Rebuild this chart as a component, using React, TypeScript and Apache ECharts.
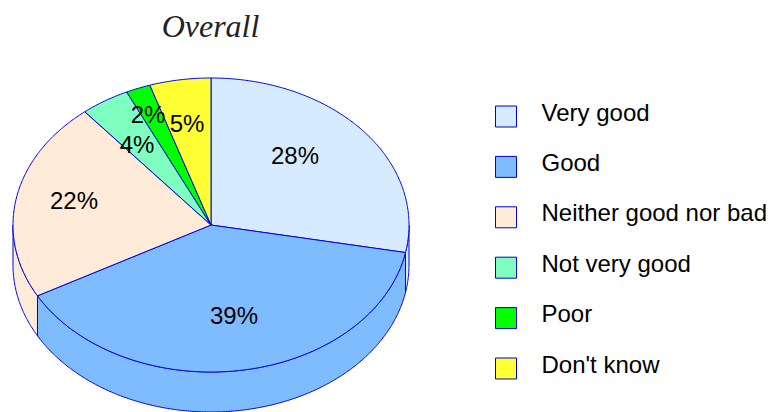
import React, { useEffect, useRef } from "react";
import * as echarts from "echarts";

const titleText = "Overall";
const categories = ["Very good", "Good", "Neither good nor bad", "Not very good", "Poor", "Don't know"];
const shares = [28, 39, 22, 4, 2, 5];
const sliceColors = ["#D6EBFF", "#7FBBFF", "#FFEBD7", "#7FFFBF", "#00FF00", "#FFFF33"];
const labelCentres = [[295, 155], [234, 315], [74, 200], [137, 144], [148, 114], [187, 123]];

const EDGE = "#0000D8";
const CX = 211, CY = 225, RX = 198, RY = 147, DEPTH = 40;
const DEG = Math.PI / 180;
const rim = (a: number, dy = 0) => [CX + RX * Math.sin(a * DEG), CY + dy - RY * Math.cos(a * DEG)];
const arc = (a: number, b: number, dy = 0) => {
  const pts: number[][] = [];
  const n = Math.max(2, Math.ceil((b - a) * 2));
  for (let i = 0; i <= n; i++) pts.push(rim(a + ((b - a) * i) / n, dy));
  return pts;
};
const total = shares.reduce((s, v) => s + v, 0);

const makeSeries = (name: string, i: number) => ({
  type: "custom",
  name,
  coordinateSystem: "none",
  silent: true,
  data: [[shares[i], shares.slice(0, i).reduce((s, v) => s + v, 0)]],
  itemStyle: { color: sliceColors[i] },
  renderItem: (_p: any, api: any) => {
    const start = (api.value(1) / total) * 360;
    const end = start + (api.value(0) / total) * 360;
    const style = { fill: sliceColors[i], stroke: EDGE, lineWidth: 1 };
    const children: any[] = [];
    const wallA = Math.max(start, 90), wallB = Math.min(end, 270);
    if (wallB > wallA) {
      children.push({
        type: "polygon",
        z2: 1,
        shape: { points: [...arc(wallA, wallB), ...arc(wallA, wallB, DEPTH).reverse()] },
        style,
      });
    }
    children.push({
      type: "polygon",
      z2: 2,
      shape: { points: [[CX, CY], ...arc(start, end)] },
      style,
    });
    children.push({
      type: "text",
      z2: 10,
      x: labelCentres[i][0],
      y: labelCentres[i][1],
      style: {
        text: `${Math.round(api.value(0))}%`,
        fill: "#000",
        font: '24px "Liberation Sans", Arial, sans-serif',
        align: "center",
        verticalAlign: "middle",
      },
    });
    return { type: "group", children };
  },
});

export default function App() {
  const ref = useRef<HTMLDivElement>(null);
  useEffect(() => {
    document.body.style.margin = "0";
    const chart = echarts.init(ref.current!, undefined, { renderer: "svg" });
    chart.setOption({
      animation: false,
      backgroundColor: "#fff",
      title: {
        text: titleText,
        left: 205.5,
        top: 5,
        textAlign: "center",
        textStyle: {
          fontFamily: '"Liberation Serif", serif',
          fontStyle: "italic",
          fontWeight: "normal",
          fontSize: 32,
          color: "#222",
        },
      },
      legend: {
        orient: "vertical",
        left: 495,
        top: 100,
        padding: 0,
        itemWidth: 21,
        itemHeight: 21,
        itemGap: 17.4,
        icon: "rect",
        selectedMode: false,
        formatter: (name: string) => `{a|${name}}`,
        textStyle: {
          rich: {
            a: {
              fontFamily: '"Liberation Sans", Arial, sans-serif',
              fontSize: 24,
              lineHeight: 24,
              color: "#000",
              padding: [0, 0, 9, 20],
            },
          },
        },
        data: categories.map((name, i) => ({
          name,
          itemStyle: { color: sliceColors[i], borderColor: EDGE, borderWidth: 1 },
        })),
      },
      series: categories.map(makeSeries),
    });
    return () => chart.dispose();
  }, []);
  return <div ref={ref} style={{ position: "absolute", left: 0, top: 0, width: 777, height: 412 }} />;
}
